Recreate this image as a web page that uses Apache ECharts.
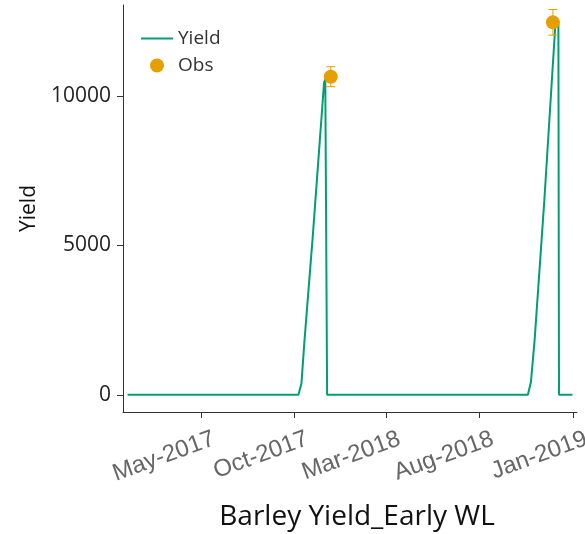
<!DOCTYPE html>
<html>
<head>
<meta charset="utf-8">
<script src="https://cdn.jsdelivr.net/npm/echarts@6/dist/echarts.min.js"></script>
<style>
  html, body { margin: 0; padding: 0; background: #fff; }
  #chart { width: 585px; height: 534px; }
</style>
</head>
<body>
<div id="chart"></div>
<script>
// Simulated barley yield (kg/ha) through two seasons
const yieldDates = [
  '2017-01-01', '2017-10-08', '2017-10-13', '2017-10-18', '2017-10-31',
  '2017-11-19', '2017-11-21', '2017-11-23', '2017-11-24',
  '2018-10-19', '2018-10-24', '2018-10-30', '2018-11-15',
  '2018-12-03', '2018-12-08', '2018-12-09', '2018-12-31'
];
const yieldValues = [
  0, 0, 390, 1840, 5180,
  10450, 10560, 10580, 0,
  0, 430, 1825, 6520,
  12380, 12420, 0, 0
];

// Observed yield with standard error
const obsDates = ['2017-11-30', '2018-11-29'];
const obsValues = [10650, 12470];
const obsErrors = [335, 430];

// Axis ticks
const xTickDates = ['2017-05-01', '2017-10-01', '2018-03-01', '2018-08-01', '2019-01-01'];
const xTickLabels = ['May-2017', 'Oct-2017', 'Mar-2018', 'Aug-2018', 'Jan-2019'];
const yTicks = [0, 5000, 10000];

// dates are placed on a linear millisecond scale
const t = s => Date.UTC(+s.slice(0, 4), +s.slice(5, 7) - 1, +s.slice(8, 10));
const xTickTimes = xTickDates.map(t);

const lineData = yieldDates.map((d, i) => [t(d), yieldValues[i]]);
const obsData = obsDates.map((d, i) => [t(d), obsValues[i]]);
const errData = obsDates.map((d, i) => [t(d), obsValues[i] - obsErrors[i], obsValues[i] + obsErrors[i]]);

const GREEN = '#009E73';
const ORANGE = '#E69F00';
const AXIS = '#333333';
const HOUR = 3600e3;

const chart = echarts.init(document.getElementById('chart'), null, { renderer: 'canvas' });
chart.setOption({
  animation: false,
  backgroundColor: '#ffffff',
  grid: { left: 123, top: 5, right: 8, bottom: 122, outerBoundsMode: 'none', containLabel: false },
  legend: {
    orient: 'vertical',
    left: 140,
    top: 29,
    padding: 0,
    itemWidth: 32,
    itemHeight: 14,
    itemGap: 8,
    textStyle: { fontFamily: 'Open Sans', fontSize: 19, color: '#333' },
    data: [
      { name: 'Yield', itemStyle: { opacity: 0 } },
      { name: 'Obs', icon: 'circle' }
    ]
  },
  xAxis: {
    type: 'value',
    min: t('2016-12-24') + 12 * HOUR,
    max: t('2019-01-07') + 12 * HOUR,
    splitLine: { show: false },
    axisLine: { onZero: false, lineStyle: { color: AXIS, width: 1 } },
    axisTick: { show: true, length: 6, lineStyle: { color: AXIS }, customValues: xTickTimes },
    axisLabel: {
      customValues: xTickTimes,
      rotate: 20,
      margin: 31,
      padding: [0, -14, 0, 0],
      fontFamily: 'Liberation Sans',
      fontSize: 24,
      color: '#666',
      hideOverlap: false,
      formatter: v => xTickLabels[xTickTimes.indexOf(v)]
    },
    name: 'Barley Yield_Early WL',
    nameLocation: 'middle',
    nameGap: 91,
    nameTextStyle: { fontFamily: 'Open Sans', fontSize: 28, color: '#111', padding: [0, 0, 0, 14] }
  },
  yAxis: {
    type: 'value',
    min: -575,
    max: 13050,
    splitLine: { show: false },
    axisLine: { show: true, lineStyle: { color: AXIS, width: 1 } },
    axisTick: { show: true, length: 6, lineStyle: { color: AXIS }, customValues: yTicks },
    axisLabel: {
      customValues: yTicks,
      margin: 12,
      fontFamily: 'Open Sans',
      fontSize: 21,
      color: '#222',
      formatter: v => String(v)
    },
    name: 'Yield',
    nameLocation: 'middle',
    nameRotate: 90,
    nameGap: 83,
    nameTextStyle: { fontFamily: 'Open Sans', fontSize: 21, color: '#111' }
  },
  series: [
    {
      name: 'Yield',
      type: 'line',
      data: lineData,
      symbol: 'none',
      color: GREEN,
      lineStyle: { color: GREEN, width: 2 },
      z: 2
    },
    {
      name: 'Obs error',
      type: 'custom',
      data: errData,
      z: 3,
      renderItem: (params, api) => {
        const x = api.value(0);
        const lo = api.coord([x, api.value(1)]);
        const hi = api.coord([x, api.value(2)]);
        const cap = 4.5;
        const style = { stroke: ORANGE, lineWidth: 1 };
        return {
          type: 'group',
          children: [
            { type: 'line', shape: { x1: lo[0], y1: lo[1], x2: hi[0], y2: hi[1] }, style },
            { type: 'line', shape: { x1: lo[0] - cap, y1: lo[1], x2: lo[0] + cap, y2: lo[1] }, style },
            { type: 'line', shape: { x1: hi[0] - cap, y1: hi[1], x2: hi[0] + cap, y2: hi[1] }, style }
          ]
        };
      }
    },
    {
      name: 'Obs',
      type: 'scatter',
      data: obsData,
      symbol: 'circle',
      symbolSize: 14,
      color: ORANGE,
      itemStyle: { color: ORANGE, opacity: 1 },
      z: 4
    }
  ]
});
</script>
</body>
</html>
